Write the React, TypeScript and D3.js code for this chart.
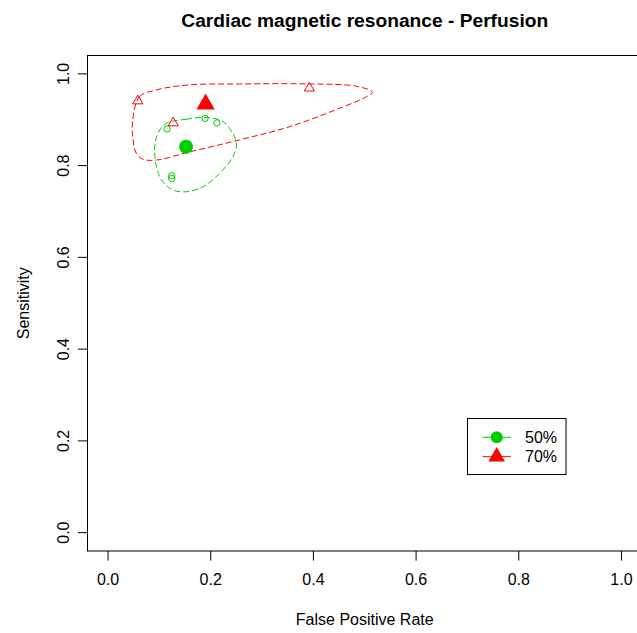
import React from "react";
import * as d3 from "d3";

// Study estimates (false positive rate, sensitivity) for each threshold
const studies50Fpr = [0.115, 0.189, 0.212, 0.124, 0.124];
const studies50Sens = [0.880, 0.903, 0.893, 0.778, 0.772];
const studies70Fpr = [0.058, 0.127, 0.392];
const studies70Sens = [0.941, 0.893, 0.969];

// Summary operating points
const summary50 = { fpr: 0.152, sens: 0.841 };
const summary70 = { fpr: 0.190, sens: 0.934 };

// Confidence regions around each summary point
const region50Fpr = [0.113, 0.152, 0.191, 0.224, 0.243, 0.250, 0.243, 0.217, 0.185, 0.152, 0.126, 0.104, 0.093, 0.091, 0.097];
const region50Sens = [0.892, 0.901, 0.905, 0.896, 0.870, 0.849, 0.819, 0.783, 0.754, 0.743, 0.747, 0.769, 0.805, 0.841, 0.870];
const region70Fpr = [0.048, 0.061, 0.094, 0.159, 0.256, 0.393, 0.484, 0.515, 0.503, 0.451, 0.354, 0.256, 0.159, 0.094, 0.068, 0.055, 0.048];
const region70Sens = [0.899, 0.950, 0.965, 0.976, 0.978, 0.978, 0.973, 0.960, 0.950, 0.925, 0.885, 0.856, 0.830, 0.812, 0.814, 0.827, 0.863];

const ticks = [0, 0.2, 0.4, 0.6, 0.8, 1.0];
const legendLabels = ["50%", "70%"];

const GREEN = "#00CD00";
const RED = "#FF0000";
const FONT = "'Liberation Sans', Arial, sans-serif";

export default function App() {
  const W = 637;
  const H = 633;
  const left = 87.5;
  const right = 642;
  const top = 55.5;
  const bottom = 551;

  const x = d3.scaleLinear().domain([-0.04, 1.04]).range([left, right]);
  const y = d3.scaleLinear().domain([-0.04, 1.04]).range([bottom, top]);

  const closed = d3
    .line<[number, number]>()
    .x((d) => x(d[0]))
    .y((d) => y(d[1]))
    .curve(d3.curveCatmullRomClosed.alpha(0.5));

  const region50 = region50Fpr.map((v, i) => [v, region50Sens[i]] as [number, number]);
  const region70 = region70Fpr.map((v, i) => [v, region70Sens[i]] as [number, number]);

  const triSmall = d3.symbol().type(d3.symbolTriangle).size(44)();
  const triBig = d3.symbol().type(d3.symbolTriangle).size(145)();
  const triLegend = d3.symbol().type(d3.symbolTriangle).size(120)();

  const midX = (left + right) / 2;

  const legendX = 467.5;
  const legendY = 418.5;
  const legendW = 98.5;
  const legendH = 56;
  const rowY = [437.3, 456.7];

  return (
    <svg
      width={W}
      height={H}
      style={{ position: "absolute", left: 0, top: 0, background: "#fff" }}
    >
      <rect x={0} y={0} width={W} height={H} fill="#fff" />

      {/* title */}
      <text
        x={midX}
        y={26.5}
        textAnchor="middle"
        fontFamily={FONT}
        fontWeight="bold"
        fontSize={19.2}
        fill="#000"
      >
        Cardiac magnetic resonance - Perfusion
      </text>

      {/* plot frame */}
      <rect
        x={left}
        y={top}
        width={right - left}
        height={bottom - top}
        fill="none"
        stroke="#000"
        strokeWidth={1}
      />

      {/* x axis */}
      {ticks.map((t) => (
        <g key={"x" + t}>
          <line x1={x(t)} x2={x(t)} y1={bottom} y2={bottom + 9.6} stroke="#000" />
          <text
            x={x(t)}
            y={585}
            textAnchor="middle"
            fontFamily={FONT}
            fontSize={16}
            fill="#000"
          >
            {t.toFixed(1)}
          </text>
        </g>
      ))}
      <text
        x={midX}
        y={625}
        textAnchor="middle"
        fontFamily={FONT}
        fontSize={16}
        fill="#000"
      >
        False Positive Rate
      </text>

      {/* y axis */}
      {ticks.map((t) => (
        <g key={"y" + t}>
          <line x1={left} x2={left - 9.6} y1={y(t)} y2={y(t)} stroke="#000" />
          <text
            transform={`translate(68.5,${y(t)}) rotate(-90)`}
            textAnchor="middle"
            fontFamily={FONT}
            fontSize={16}
            fill="#000"
          >
            {t.toFixed(1)}
          </text>
        </g>
      ))}
      <text
        transform={`translate(29,${(top + bottom) / 2}) rotate(-90)`}
        textAnchor="middle"
        fontFamily={FONT}
        fontSize={16}
        fill="#000"
      >
        Sensitivity
      </text>

      {/* confidence regions */}
      <path d={closed(region50) || ""} fill="none" stroke={GREEN} strokeWidth={1} strokeDasharray="6,3" />
      <path d={closed(region70) || ""} fill="none" stroke={RED} strokeWidth={1} strokeDasharray="6,3" />

      {/* study points */}
      {studies50Fpr.map((v, i) => (
        <circle
          key={"s50" + i}
          cx={x(v)}
          cy={y(studies50Sens[i])}
          r={3.2}
          fill="none"
          stroke={GREEN}
          strokeWidth={1}
        />
      ))}
      {studies70Fpr.map((v, i) => (
        <path
          key={"s70" + i}
          d={triSmall || ""}
          transform={`translate(${x(v)},${y(studies70Sens[i])})`}
          fill="none"
          stroke={RED}
          strokeWidth={1}
        />
      ))}

      {/* summary points */}
      <circle cx={x(summary50.fpr)} cy={y(summary50.sens)} r={7} fill={GREEN} />
      <path
        d={triBig || ""}
        transform={`translate(${x(summary70.fpr)},${y(summary70.sens)})`}
        fill={RED}
      />

      {/* legend */}
      <rect x={legendX} y={legendY} width={legendW} height={legendH} fill="#fff" stroke="#000" />
      {legendLabels.map((lab, i) => {
        const col = i === 0 ? GREEN : RED;
        return (
          <g key={lab}>
            <line x1={482.7} x2={510.7} y1={rowY[i]} y2={rowY[i]} stroke={col} />
            {i === 0 ? (
              <circle cx={496.7} cy={rowY[i]} r={6} fill={col} />
            ) : (
              <path d={triLegend || ""} transform={`translate(496.7,${rowY[i]})`} fill={col} />
            )}
            <text
              x={525}
              y={rowY[i] + 5.7}
              fontFamily={FONT}
              fontSize={16}
              fill="#000"
            >
              {lab}
            </text>
          </g>
        );
      })}
    </svg>
  );
}
